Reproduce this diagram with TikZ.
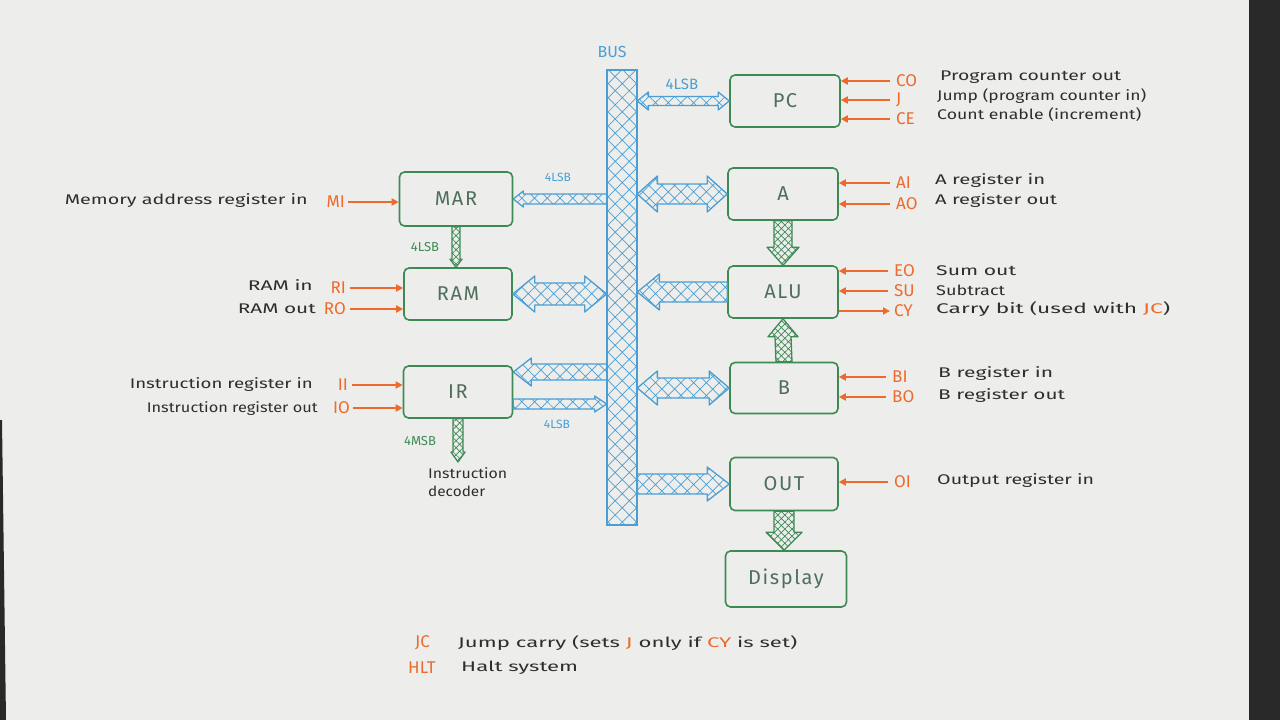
\documentclass[tikz,border=0pt]{standalone}
\usepackage{fontspec}
\usepackage{graphicx}
\setmainfont{Fira Sans}
\usetikzlibrary{patterns.meta,arrows.meta,calc}
\definecolor{paper}{HTML}{EDEEEC}
\definecolor{bxgreen}{HTML}{3E8A55}
\definecolor{busblue}{HTML}{4A9ED4}
\definecolor{ctlor}{HTML}{EE6A2C}
\definecolor{ink}{HTML}{2E2E2E}
\definecolor{bxtext}{HTML}{4F6E5C}
\newcommand\fw[2]{\resizebox{#1pt}{\height}{#2}}
% single horizontal fat arrow, head at #3, #6 signed head length
\newcommand\fatH[6][]{\path[#1] ([yshift=#4pt]#2) -- ([xshift={-(#6)*1pt},yshift=#4pt]#3) -- ([xshift={-(#6)*1pt},yshift=#5pt]#3) -- (#3) -- ([xshift={-(#6)*1pt},yshift=-#5pt]#3) -- ([xshift={-(#6)*1pt},yshift=-#4pt]#3) -- ([yshift=-#4pt]#2) -- cycle;}
% double horizontal fat arrow, #2 left, #3 right
\newcommand\fatHH[6][]{\path[#1] (#2) -- ([xshift=#6pt,yshift=#5pt]#2) -- ([xshift=#6pt,yshift=#4pt]#2) -- ([xshift=-#6pt,yshift=#4pt]#3) -- ([xshift=-#6pt,yshift=#5pt]#3) -- (#3) -- ([xshift=-#6pt,yshift=-#5pt]#3) -- ([xshift=-#6pt,yshift=-#4pt]#3) -- ([xshift=#6pt,yshift=-#4pt]#2) -- ([xshift=#6pt,yshift=-#5pt]#2) -- cycle;}
% single vertical fat arrow, head at #3, #6 positive when pointing down
\newcommand\fatV[6][]{\path[#1] ([xshift=#4pt]#2) -- ([xshift=#4pt,yshift={(#6)*1pt}]#3) -- ([xshift=#5pt,yshift={(#6)*1pt}]#3) -- (#3) -- ([xshift=-#5pt,yshift={(#6)*1pt}]#3) -- ([xshift=-#4pt,yshift={(#6)*1pt}]#3) -- ([xshift=-#4pt]#2) -- cycle;}
\begin{document}
\begin{tikzpicture}[x=1pt,y=-1pt,
  box/.style={draw=bxgreen, line width=1.6pt, rounded corners=5pt, inner sep=0pt, text=bxtext,
    font=\fontsize{20}{20}\selectfont\addfontfeature{LetterSpace=8}},
  bluefat/.style={draw=busblue, line width=1.3pt, line join=round,
    pattern={Hatch[angle=45,distance=9pt,line width=0.7pt]}, pattern color=busblue},
  greenfat/.style={draw=bxgreen, line width=1.3pt, line join=round,
    pattern={Hatch[angle=45,distance=5pt,line width=0.7pt]}, pattern color=bxgreen},
  ctl/.style={draw=ctlor, line width=1.8pt, -{Triangle[length=7pt,width=7pt]}},
  cname/.style={text=ctlor, inner sep=0pt, font=\fontsize{17}{17}\selectfont},
  desc/.style={text=ink, inner sep=0pt, font=\fontsize{14}{14}\selectfont},
  bl/.style={text=busblue, inner sep=0pt},
  gl/.style={text=bxgreen, inner sep=0pt}]
\useasboundingbox (0,0) rectangle (1280,720);
\fill[paper] (0,0) rectangle (1280,720);
\fill[black!84] (1249,0) rectangle (1280,720);
\fill[black!84] (0,420) -- (2,420) -- (6,720) -- (0,720) -- cycle;

% bus
\node[draw=busblue, line width=1.3pt, minimum width=30pt, minimum height=455pt, inner sep=0pt,
  pattern={Hatch[angle=45,distance=10pt,line width=0.7pt]}, pattern color=busblue] (bus) at (622,297.5) {};
\node[bl, font=\fontsize{16}{16}\selectfont] (buslbl) at (612,52) {BUS};

% boxes
\node[box, minimum width=110pt, minimum height=52pt] (PC) at (785,101) {PC};
\node[box, minimum width=110pt, minimum height=52pt] (A) at (783,194) {A};
\node[box, minimum width=110pt, minimum height=52pt] (ALU) at (783,292) {ALU};
\node[box, minimum width=108pt, minimum height=51pt] (B) at (784,388) {B};
\node[box, minimum width=108pt, minimum height=53pt] (OUT) at (784,484) {OUT};
\node[box, minimum width=121pt, minimum height=56pt] (Disp) at (786,579) {Display};
\node[box, minimum width=113pt, minimum height=54pt] (MAR) at (456,199) {MAR};
\node[box, minimum width=108pt, minimum height=52pt] (RAM) at (458,294) {RAM};
\node[box, minimum width=109pt, minimum height=52pt] (IR) at (458,392) {IR};

% bus connections
\coordinate (pcL) at (bus.east |- PC.west);
\fatHH[bluefat]{pcL}{PC.west}{4.5}{9}{11}
\coordinate (aL) at (bus.east |- A.west);
\fatHH[bluefat]{aL}{A.west}{10}{18}{20}
\coordinate (aluL) at (bus.east |- ALU.west);
\fatH[bluefat]{ALU.west}{aluL}{10}{18}{-22}
\coordinate (bL) at (bus.east |- B.west);
\fatHH[bluefat]{bL}{B.west}{10}{17}{20}
\coordinate (outL) at (bus.east |- OUT.west);
\fatH[bluefat]{outL}{OUT.west}{10}{17}{22}
\coordinate (marR) at (bus.west |- MAR.east);
\fatH[bluefat]{marR}{MAR.east}{5}{8}{-10}
\coordinate (ramR) at (bus.west |- RAM.east);
\fatHH[bluefat]{RAM.east}{ramR}{11}{18}{22}
\coordinate (irU) at ([yshift=20pt]IR.east);
\coordinate (irUb) at (bus.west |- irU);
\fatH[bluefat]{irUb}{irU}{8}{14}{-18}
\coordinate (irD) at ([yshift=-12pt]IR.east);
\coordinate (irDb) at (bus.west |- irD);
\fatH[bluefat]{irD}{irDb}{5}{8}{12}

% green data paths
\fatV[greenfat]{A.south}{ALU.north}{9}{16}{18}
\fatV[greenfat]{B.north}{ALU.south}{8}{15}{-18}
\coordinate (dispT) at (OUT.south |- Disp.north);
\fatV[greenfat]{OUT.south}{dispT}{10}{18}{18}
\coordinate (ramT) at (MAR.south |- RAM.north);
\fatV[greenfat]{MAR.south}{ramT}{4}{6}{8}
\coordinate (dec) at (458,462);
\fatV[greenfat]{IR.south}{dec}{5}{7}{10}

% bit labels
\node[bl, font=\fontsize{15}{15}\selectfont] (l1) at (682,84) {4LSB};
\node[bl, font=\fontsize{12}{12}\selectfont] (l2) at (558,177) {4LSB};
\node[bl, font=\fontsize{12}{12}\selectfont] (l3) at (557,424) {4LSB};
\node[gl, font=\fontsize{13}{13}\selectfont] (l4) at (425,247) {4LSB};
\node[gl, font=\fontsize{13}{13}\selectfont] (l5) at (420,441) {4MSB};
\node[desc, anchor=west] (dec1) at (428,473) {\fw{79}{Instruction}};
\node[desc, anchor=west] (dec2) at (428,491) {\fw{57}{decoder}};

% right-side control signals
\node[cname, anchor=west] (CO) at (896,81) {CO};
\node[cname, anchor=west] (J) at (896,100) {J};
\node[cname, anchor=west] (CE) at (896,119) {CE};
\draw[ctl] ([xshift=-6pt]CO.west) -- (CO.west -| PC.east);
\draw[ctl] ([xshift=-6pt]J.west) -- (J.west -| PC.east);
\draw[ctl] ([xshift=-6pt]CE.west) -- (CE.west -| PC.east);
\node[desc, anchor=west] (dCO) at (940,77) {\fw{181}{Program counter out}};
\node[desc, anchor=west] (dJ) at (937,96) {\fw{209}{Jump (program counter in)}};
\node[desc, anchor=west] (dCE) at (937,115) {\fw{204}{Count enable (increment)}};

\node[cname, anchor=west] (AI) at (896,183) {AI};
\node[cname, anchor=west] (AO) at (896,204) {AO};
\draw[ctl] ([xshift=-6pt]AI.west) -- (AI.west -| A.east);
\draw[ctl] ([xshift=-6pt]AO.west) -- (AO.west -| A.east);
\node[desc, anchor=west] (dAI) at (935,181) {\fw{110}{A register in}};
\node[desc, anchor=west] (dAO) at (935,201) {\fw{122}{A register out}};

\node[cname, anchor=west] (EO) at (894,271) {EO};
\node[cname, anchor=west] (SU) at (894,291) {SU};
\node[cname, anchor=west] (CY) at (894,311) {CY};
\draw[ctl] ([xshift=-6pt]EO.west) -- (EO.west -| ALU.east);
\draw[ctl] ([xshift=-6pt]SU.west) -- (SU.west -| ALU.east);
\draw[ctl] (ALU.east |- CY.west) -- ([xshift=-4pt]CY.west);
\node[desc, anchor=west] (dEO) at (936,271) {\fw{80}{Sum out}};
\node[desc, anchor=west] (dSU) at (936,290) {\fw{69}{Subtract}};
\node[desc, anchor=west] (dCY) at (936,309) {\fw{234}{Carry bit (used with \textcolor{ctlor}{JC})}};

\node[cname, anchor=west] (BI) at (892,377) {BI};
\node[cname, anchor=west] (BO) at (892,397) {BO};
\draw[ctl] ([xshift=-6pt]BI.west) -- (BI.west -| B.east);
\draw[ctl] ([xshift=-6pt]BO.west) -- (BO.west -| B.east);
\node[desc, anchor=west] (dBI) at (938,374) {\fw{115}{B register in}};
\node[desc, anchor=west] (dBO) at (938,396) {\fw{127}{B register out}};

\node[cname, anchor=west] (OI) at (894,482) {OI};
\draw[ctl] ([xshift=-6pt]OI.west) -- (OI.west -| OUT.east);
\node[desc, anchor=west] (dOI) at (937,481) {\fw{157}{Output register in}};

% left-side control signals
\node[cname, anchor=east] (MI) at (345,202) {MI};
\draw[ctl] ([xshift=3pt]MI.east) -- (MI.east -| MAR.west);
\node[desc, anchor=east] (dMI) at (308,201) {\fw{243}{Memory address register in}};
\node[cname, anchor=east] (RI) at (346,288) {RI};
\node[cname, anchor=east] (RO) at (346,309) {RO};
\draw[ctl] ([xshift=4pt]RI.east) -- (RI.east -| RAM.west);
\draw[ctl] ([xshift=4pt]RO.east) -- (RO.east -| RAM.west);
\node[desc, anchor=east] (dRI) at (313,285) {\fw{65}{RAM in}};
\node[desc, anchor=east] (dRO) at (316,309) {\fw{78}{RAM out}};
\node[cname, anchor=east] (II) at (348,385) {II};
\node[cname, anchor=east] (IO) at (350,408) {IO};
\draw[ctl] ([xshift=4pt]II.east) -- (II.east -| IR.west);
\draw[ctl] ([xshift=3pt]IO.east) -- (IO.east -| IR.west);
\node[desc, anchor=east] (dII) at (313,385) {\fw{183}{Instruction register in}};
\node[desc, anchor=east] (dIO) at (318,409) {\fw{171}{Instruction register out}};

% notes
\node[cname, anchor=west] (JC) at (415,643) {JC};
\node[desc, anchor=west] (dJC) at (458,643) {\fw{339}{Jump carry (sets \textcolor{ctlor}{J} only if \textcolor{ctlor}{CY} is set)}};
\node[cname, anchor=west] (HLT) at (408,668) {HLT};
\node[desc, anchor=west] (dHLT) at (461,668) {\fw{117}{Halt system}};
\end{tikzpicture}
\end{document}
